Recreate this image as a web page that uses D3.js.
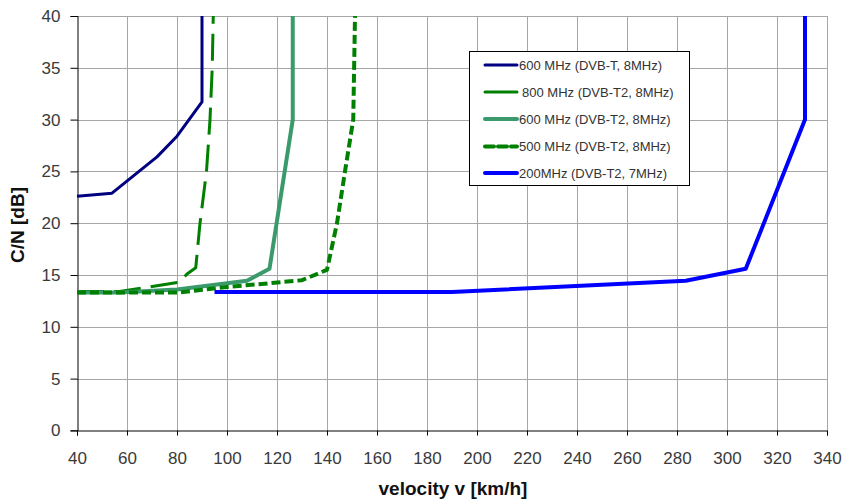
<!DOCTYPE html>
<html><head><meta charset="utf-8">
<script src="https://cdn.jsdelivr.net/npm/d3@7"></script>
<style>body{margin:0;background:#fff}svg{display:block}</style>
</head><body>
<svg id="c" width="845" height="500"></svg>
<script>
// data (velocity km/h, C/N dB)
const xTicks = [40,60,80,100,120,140,160,180,200,220,240,260,280,300,320,340];
const yTicks = [0,5,10,15,20,25,30,35,40];
const seriesNames = ["600 MHz (DVB-T, 8MHz)","800 MHz (DVB-T2, 8MHz)","600 MHz (DVB-T2, 8MHz)","500 MHz (DVB-T2, 8MHz)","200MHz (DVB-T2, 7MHz)"];
const s600T  = [[40,22.6],[54,22.9],[72,26.4],[80,28.4],[90,31.7],[90,40]];
const s800T2 = [[40,13.4],[57,13.4],[81,14.3],[84,15.1],[87.5,15.7],[89.2,20],[91.8,25],[93.2,30],[94.1,35],[94.5,40]];
const s600T2 = [[40,13.3],[57,13.3],[80,13.6],[108,14.45],[117,15.6],[126.3,30],[126.3,40]];
const s500T2 = [[40,13.3],[80,13.3],[100,13.85],[117,14.2],[130,14.5],[140,15.5],[144,20],[147.2,25],[150.5,30],[151.2,40]];
const s200T2 = [[95,13.35],[190,13.35],[283.5,14.45],[307.5,15.6],[331.2,30],[331.2,40]];

const styles = [
  {color:"#000080", w:3, dash:null},
  {color:"#008000", w:3, dash:"27,10"},
  {color:"#3a9a6c", w:4, dash:null},
  {color:"#008000", w:4, dash:"9,4"},
  {color:"#0000ff", w:4, dash:null}
];
const allSeries = [s600T, s800T2, s600T2, s500T2, s200T2];
const FONT = "'Liberation Sans',Arial,sans-serif";

const svg = d3.select("#c");
const x = d3.scaleLinear().domain([40,340]).range([77,827]);
const y = d3.scaleLinear().domain([0,40]).range([430.4,16]);

// grid
const g = svg.append("g");
g.selectAll(".vg").data(xTicks.slice(1)).join("line")
  .attr("x1",d=>Math.round(x(d))+0.5).attr("x2",d=>Math.round(x(d))+0.5)
  .attr("y1",y(40)).attr("y2",y(0)).attr("stroke","#a6a6a6").attr("stroke-width",1);
g.selectAll(".hg").data(yTicks.slice(1)).join("line")
  .attr("x1",x(40)).attr("x2",x(340))
  .attr("y1",d=>Math.round(y(d))+0.5).attr("y2",d=>Math.round(y(d))+0.5)
  .attr("stroke","#a6a6a6").attr("stroke-width",1);

// axes
const xAxis = d3.axisBottom(x).tickValues(xTicks).tickSize(5).tickPadding(16).tickFormat(d3.format("d"));
const yAxis = d3.axisLeft(y).tickValues(yTicks).tickSize(7).tickPadding(10).tickFormat(d3.format("d"));
const ax = svg.append("g").attr("transform",`translate(0,${Math.round(y(0))+0.5})`).call(xAxis);
const ay = svg.append("g").attr("transform",`translate(${Math.round(x(40))+0.5},0)`).call(yAxis);
[ax,ay].forEach(a=>{
  a.select(".domain").attr("stroke","#000");
  a.selectAll(".tick line").attr("stroke","#000");
  a.selectAll("text").attr("font-family",FONT).attr("font-size",17).attr("fill","#3a3a3a");
});

// lines
const line = d3.line().x(d=>x(d[0])).y(d=>y(d[1]));
allSeries.forEach((s,i)=>{
  const st = styles[i];
  svg.append("path").datum(s).attr("d",line).attr("fill","none")
    .attr("stroke",st.color).attr("stroke-width",st.w)
    .attr("stroke-linejoin","round")
    .attr("stroke-dasharray",st.dash);
});

// axis titles
svg.append("text").attr("x",453).attr("y",495).attr("text-anchor","middle")
  .attr("font-family",FONT).attr("font-weight","bold").attr("font-size",19)
  .attr("fill","#111").text("velocity v [km/h]");
svg.append("text").attr("transform","translate(24,225) rotate(-90)").attr("text-anchor","middle")
  .attr("font-family",FONT).attr("font-weight","bold").attr("font-size",19)
  .attr("fill","#111").text("C/N [dB]");

// legend
const lg = svg.append("g");
lg.append("rect").attr("x",469.5).attr("y",51.5).attr("width",220).attr("height",134)
  .attr("fill","#fff").attr("stroke","#000").attr("stroke-width",1);
const rowY = [65,92,119,146.5,173];
seriesNames.forEach((n,i)=>{
  const st = styles[i];
  lg.append("line").attr("x1",485).attr("x2",517).attr("y1",rowY[i]).attr("y2",rowY[i])
    .attr("stroke",st.color).attr("stroke-width",st.w).attr("stroke-linecap","round")
    .attr("stroke-dasharray", i===3 ? "9,4" : null);
  lg.append("text").attr("x", i===1 ? 522 : 519).attr("y",rowY[i]+4.5)
    .attr("font-family",FONT).attr("font-size",13).attr("fill","#333")
    .text(n);
});
</script>
</body></html>
